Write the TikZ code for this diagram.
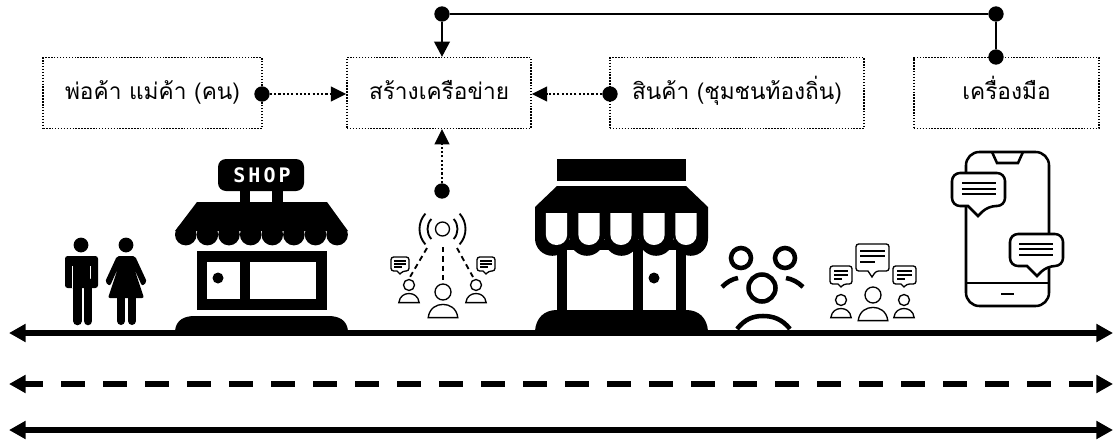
\documentclass[tikz,border=0pt]{standalone}
\usepackage{fontspec}
\usetikzlibrary{arrows.meta}
\setmainfont{Loma}[Script=Thai]
\newfontfamily\signfont{DejaVu Sans Mono}[LetterSpace=15]
\def\minibubble#1#2#3#4#5#6#7#8{\draw[fill=white,rounded corners=#8] (#1,#2) -- (#3,#2) -- (#3,#4) -- (#5+#6,#4) [sharp corners] -- (#5,#7) -- (#5-#6,#4) [rounded corners=#8] -- (#1,#4) -- cycle;}
\def\minipeople#1#2#3{\begin{scope}[shift={(#1,#2)},scale=#3]
\draw (0,0) circle (1);
\draw (-1.85,3.2) .. controls (-1.7,2) and (-0.8,1.55) .. (0,1.55) .. controls (0.8,1.55) and (1.7,2) .. (1.85,3.2) -- cycle;
\end{scope}}
\tikzset{
  boxnode/.style={draw,line width=1.1pt,dash pattern=on 1.1pt off 1.1pt,minimum height=53pt,inner sep=0pt,text height=15pt,text depth=5pt,font=\fontsize{17}{20}\selectfont},
  dotnode/.style={circle,fill=black,minimum size=11.5pt,inner sep=0pt},
  dotline/.style={line width=1.6pt,dash pattern=on 1.6pt off 1.6pt,-{Triangle[length=11.5pt,width=11pt]}},
  solidline/.style={line width=2.2pt},
  mainline/.style={line width=4.1pt,{Triangle[length=12.5pt,width=13pt]}-{Triangle[length=12.5pt,width=13pt]}},
}
\begin{document}
\begin{tikzpicture}[x=0.75pt,y=-0.75pt]
\useasboundingbox (0,0) rectangle (1114,443);
\node [boxnode,minimum width=164pt] (sellers) at (152.5,93) {พ่อค้า แม่ค้า (คน)};
\node [boxnode,minimum width=138pt] (network) at (439,93) {สร้างเครือข่าย};
\node [boxnode,minimum width=190.5pt] (goods) at (737,93) {สินค้า (ชุมชนท้องถิ่น)};
\node [boxnode,minimum width=139pt] (tools) at (1006.5,93) {เครื่องมือ};

\node [dotnode] (dotA) at (262,94) {};
\node [dotnode] (dotB) at (610,94) {};
\node [dotnode] (dotC) at (442,191) {};
\node [dotnode] (dotD) at (442,14) {};
\node [dotnode] (dotE) at (996,14) {};
\node [dotnode] (dotF) at (996,57) {};
\draw [dotline] (dotA) -- (network.west |- dotA);
\draw [dotline] (dotB) -- (network.east |- dotB);
\draw [dotline] (dotC) -- (dotC |- network.south);
\draw [solidline] (dotD) -- (dotE);
\draw [solidline] (dotE) -- (dotF);
\draw [solidline,-{Triangle[length=11.5pt,width=11.5pt]}] (dotD) -- (dotD |- network.north);

% ground lines
\coordinate (lineAl) at (9,333);
\coordinate (lineAr) at (1113,333);
\coordinate (lineBl) at (9,384);
\coordinate (lineBr) at (1113,384);
\coordinate (lineCl) at (9,430);
\coordinate (lineCr) at (1113,430);
\draw [mainline] (lineAl) -- (lineAr);
\draw [mainline,dash pattern=on 18pt off 13.5pt,dash phase=4pt] (lineBl) -- (lineBr);
\draw [mainline] (lineCl) -- (lineCr);

% man and woman
\fill (81,245) circle (7.4);
\fill [rounded corners=2pt] (65,256) rectangle (98,288);
\draw [white,line width=0.7pt] (72.5,266) -- (72.5,288);
\draw [white,line width=0.7pt] (90.5,266) -- (90.5,288);
\draw [line width=6.4pt,line cap=round] (77.5,282) -- (77.5,321);
\draw [line width=6.4pt,line cap=round] (88,282) -- (88,321);
\fill (126,245) circle (7.4);
\fill [rounded corners=1.5pt] (117,256) -- (135,256) -- (147,282) -- (142,286) -- (134,268) -- (144,298) -- (108,298) -- (118,268) -- (110,286) -- (105,282) -- cycle;
\draw [line width=6pt,line cap=round] (121,295) -- (121,321);
\draw [line width=6pt,line cap=round] (132,295) -- (132,321);

% small shop
\fill [rounded corners=6pt] (218,159) rectangle (304,191);
\node [white,font=\signfont\bfseries\fontsize{15}{15}\selectfont] (shopsign) at (262,175) {SHOP};
\fill (240,191) rectangle (250,203);
\fill (272,191) rectangle (283,203);
\fill (197,202) -- (327,202) -- (348,231) -- (175,231) -- cycle;
\foreach \i in {185.8,207.4,229,250.7,272.3,293.9,315.5,337.1}
  \fill (\i,234.6) circle (10.8);
\fill (197,251) rectangle (327,310);
\fill [white] (207,262) rectangle (240,299);
\fill [white] (250,262) rectangle (316,299);
\fill (218,278) circle (5.5);
\fill (175,331) .. controls (176,320) and (184,316) .. (195,316) -- (328,316) .. controls (339,316) and (347,320) .. (348,331) -- cycle;

% signal and people
\begin{scope}[line width=1pt]
\draw (442.5,229) circle (7);
\draw [line width=1.4pt] (442.5,229) ++(138:15) arc[start angle=138,end angle=222,radius=15];
\draw [line width=1.4pt] (442.5,229) ++(138:23) arc[start angle=138,end angle=222,radius=23];
\draw [line width=1.4pt] (442.5,229) ++(42:15) arc[start angle=42,end angle=-42,radius=15];
\draw [line width=1.4pt] (442.5,229) ++(42:23) arc[start angle=42,end angle=-42,radius=23];
\draw [line width=1.4pt,dash pattern=on 4pt off 3pt] (427,248) -- (410,277);
\draw [line width=1.4pt,dash pattern=on 4pt off 3pt] (443,247) -- (443,280);
\draw [line width=1.4pt,dash pattern=on 4pt off 3pt] (457,248) -- (473,277);
\minipeople{409}{285}{5.5}
\minipeople{443}{292}{8}
\minipeople{476}{285}{5.5}
\minibubble{391}{257}{409}{271}{400}{3}{274}{2pt}
\minibubble{477}{257}{495}{271}{486}{3}{274}{2pt}
\draw (394,261) -- (406,261);
\draw (394,264) -- (406,264);
\draw (394,267) -- (402,267);
\draw (480,261) -- (492,261);
\draw (480,264) -- (492,264);
\draw (480,267) -- (488,267);
\end{scope}

% big shop
\fill (557,159) rectangle (686,181);
\fill (557,186) -- (686,186) -- (708,207) -- (708,238) -- (535,238) -- (535,207) -- cycle;
\fill (557,240) rectangle (686,312);
\fill [white] (567,250) rectangle (633,310);
\fill [white] (643,250) rectangle (676,310);
\foreach \i in {552.3,586.9,621.5,656.1,690.7}
  \fill (\i,238.5) circle (17.3);
\foreach \i in {556.5,589,621,654,686}
  \fill [white] (\i-10.7,213) -- (\i+10.7,213) -- (\i+10.7,234.5) .. controls (\i+10.7,241) and (\i+5.5,245) .. (\i,245) .. controls (\i-5.5,245) and (\i-10.7,241) .. (\i-10.7,234.5) -- cycle;
\fill (654,278) circle (5.5);
\fill (535,331) .. controls (536,318) and (544,310) .. (557,310) -- (686,310) .. controls (699,310) and (707,318) .. (708,331) -- cycle;

% sad group
\begin{scope}[line width=3.4pt]
\draw (741,258) circle (10);
\draw (785,258) circle (10);
\draw (762,288) circle (13.5);
\draw (722,287) .. controls (727,282) and (732,279) .. (738,278);
\draw (786,278) .. controls (792,279) and (798,282) .. (803,287);
\draw (737,329) .. controls (745,319) and (753,316) .. (763,316) .. controls (773,316) and (782,319) .. (790,329);
\end{scope}

% talking group
\begin{scope}[line width=1pt]
\minipeople{873}{295}{8}
\minipeople{841}{300}{5.5}
\minipeople{904}{300}{5.5}
\minibubble{856}{244}{889}{271}{872}{4}{277}{2pt}
\minibubble{830}{266}{852}{284}{841}{3}{287}{2pt}
\minibubble{893}{266}{916}{284}{904}{3}{287}{2pt}
\draw (860,251) -- (885,251);
\draw (860,256) -- (885,256);
\draw (860,262) -- (875,262);
\draw (834,271) -- (848,271);
\draw (834,275) -- (848,275);
\draw (834,279) -- (842,279);
\draw (897,271) -- (912,271);
\draw (897,275) -- (912,275);
\draw (897,279) -- (905,279);
\end{scope}

% phone
\begin{scope}[line width=1.9pt]
\draw [rounded corners=10pt] (966,152) rectangle (1049,306);
\draw (992,152) -- (997,163) -- (1018,163) -- (1023,152);
\draw (966,283) -- (1049,283);
\draw [line width=2.2pt] (1001,294) -- (1014,294);
\minibubble{952}{173}{1005}{206}{978}{10}{216}{6pt}
\minibubble{1010}{234}{1063}{266}{1037}{10}{276}{6pt}
\draw (962,183) -- (996,183);
\draw (962,189) -- (996,189);
\draw (962,194) -- (996,194);
\draw (1019,244) -- (1053,244);
\draw (1019,249) -- (1053,249);
\draw (1019,255) -- (1053,255);
\end{scope}
\end{tikzpicture}
\end{document}
